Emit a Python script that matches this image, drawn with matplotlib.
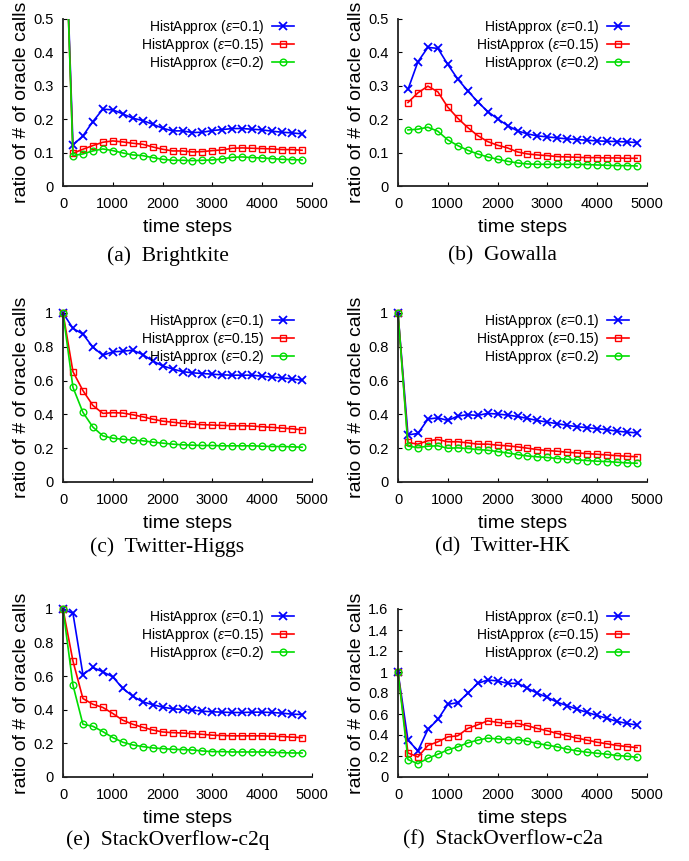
import numpy as np
import matplotlib
matplotlib.use('Agg')
import matplotlib.pyplot as plt

plt.rcParams['font.family'] = 'Liberation Sans'
plt.rcParams['mathtext.fontset'] = 'custom'
plt.rcParams['mathtext.rm'] = 'Liberation Sans'
plt.rcParams['mathtext.it'] = 'Liberation Sans:italic'

nan = float('nan')
steps = [0, 200, 400, 600, 800, 1000, 1200, 1400, 1600, 1800, 2000, 2200, 2400,
         2600, 2800, 3000, 3200, 3400, 3600, 3800, 4000, 4200, 4400, 4600, 4800]

labels = ['HistApprox ($\\varepsilon$=0.1)', 'HistApprox ($\\varepsilon$=0.15)',
          'HistApprox ($\\varepsilon$=0.2)']

# (a) Brightkite
bk_01 = [1.0, 0.123, 0.150, 0.193, 0.230, 0.228, 0.216, 0.203, 0.196, 0.185, 0.173, 0.165, 0.165,
         0.160, 0.161, 0.166, 0.169, 0.172, 0.172, 0.170, 0.168, 0.164, 0.161, 0.159, 0.156]
bk_015 = [1.0, 0.098, 0.110, 0.121, 0.131, 0.135, 0.132, 0.128, 0.125, 0.117, 0.110, 0.105, 0.105,
          0.102, 0.103, 0.106, 0.108, 0.113, 0.114, 0.113, 0.112, 0.111, 0.109, 0.109, 0.107]
bk_02 = [1.0, 0.091, 0.096, 0.105, 0.111, 0.106, 0.099, 0.093, 0.091, 0.085, 0.080, 0.077, 0.077,
         0.076, 0.077, 0.078, 0.081, 0.086, 0.087, 0.085, 0.084, 0.082, 0.080, 0.079, 0.078]

# (b) Gowalla
gw_01 = [nan, 0.289, 0.372, 0.415, 0.412, 0.364, 0.320, 0.285, 0.252, 0.223, 0.201, 0.181, 0.165,
         0.156, 0.150, 0.147, 0.144, 0.141, 0.139, 0.137, 0.135, 0.134, 0.133, 0.132, 0.130]
gw_015 = [nan, 0.250, 0.279, 0.299, 0.282, 0.236, 0.203, 0.175, 0.151, 0.133, 0.122, 0.114, 0.102,
          0.096, 0.093, 0.091, 0.088, 0.087, 0.086, 0.085, 0.085, 0.084, 0.084, 0.083, 0.083]
gw_02 = [nan, 0.168, 0.170, 0.176, 0.164, 0.138, 0.121, 0.107, 0.096, 0.087, 0.080, 0.074, 0.069,
         0.066, 0.065, 0.065, 0.065, 0.065, 0.065, 0.064, 0.063, 0.062, 0.061, 0.061, 0.060]

# (c) Twitter-Higgs
th_01 = [1.0, 0.909, 0.875, 0.798, 0.750, 0.770, 0.774, 0.780, 0.754, 0.717, 0.687, 0.669, 0.653,
         0.646, 0.642, 0.638, 0.634, 0.632, 0.632, 0.632, 0.626, 0.620, 0.616, 0.610, 0.602]
th_015 = [1.0, 0.653, 0.541, 0.453, 0.406, 0.410, 0.408, 0.398, 0.386, 0.372, 0.360, 0.354, 0.347,
          0.343, 0.339, 0.337, 0.335, 0.333, 0.333, 0.331, 0.327, 0.323, 0.319, 0.315, 0.309]
th_02 = [1.0, 0.560, 0.412, 0.325, 0.273, 0.259, 0.253, 0.248, 0.244, 0.236, 0.230, 0.224, 0.220,
         0.218, 0.216, 0.216, 0.214, 0.214, 0.214, 0.214, 0.212, 0.210, 0.210, 0.208, 0.206]

# (d) Twitter-HK
hk_01 = [1.0, 0.279, 0.287, 0.372, 0.380, 0.364, 0.390, 0.398, 0.394, 0.406, 0.402, 0.396, 0.388,
         0.376, 0.364, 0.354, 0.345, 0.335, 0.327, 0.321, 0.315, 0.309, 0.301, 0.295, 0.291]
hk_015 = [1.0, 0.234, 0.224, 0.244, 0.251, 0.238, 0.238, 0.232, 0.224, 0.224, 0.218, 0.214, 0.208,
          0.200, 0.192, 0.186, 0.182, 0.176, 0.172, 0.168, 0.164, 0.160, 0.156, 0.152, 0.150]
hk_02 = [1.0, 0.212, 0.204, 0.212, 0.214, 0.200, 0.202, 0.198, 0.192, 0.188, 0.180, 0.172, 0.162,
         0.154, 0.149, 0.145, 0.139, 0.135, 0.131, 0.127, 0.123, 0.121, 0.117, 0.113, 0.111]

# (e) StackOverflow-c2q
sq_01 = [1.0, 0.974, 0.610, 0.652, 0.626, 0.596, 0.527, 0.481, 0.447, 0.431, 0.416, 0.406, 0.402,
         0.398, 0.392, 0.388, 0.386, 0.384, 0.384, 0.386, 0.386, 0.384, 0.380, 0.374, 0.372]
sq_015 = [1.0, 0.690, 0.467, 0.433, 0.414, 0.378, 0.338, 0.314, 0.296, 0.280, 0.268, 0.264, 0.262,
          0.258, 0.254, 0.249, 0.247, 0.245, 0.245, 0.245, 0.245, 0.243, 0.241, 0.237, 0.235]
sq_02 = [1.0, 0.547, 0.314, 0.302, 0.270, 0.235, 0.207, 0.191, 0.181, 0.173, 0.169, 0.165, 0.163,
         0.161, 0.155, 0.151, 0.151, 0.149, 0.149, 0.149, 0.149, 0.147, 0.145, 0.143, 0.143]

# (f) StackOverflow-c2a
sa_01 = [1.0, 0.351, 0.249, 0.453, 0.548, 0.692, 0.708, 0.797, 0.892, 0.924, 0.915, 0.892, 0.892,
         0.845, 0.797, 0.759, 0.711, 0.679, 0.644, 0.615, 0.586, 0.558, 0.529, 0.510, 0.494]
sa_015 = [1.0, 0.229, 0.191, 0.300, 0.335, 0.382, 0.392, 0.462, 0.497, 0.535, 0.520, 0.507, 0.510,
          0.488, 0.462, 0.440, 0.414, 0.392, 0.370, 0.351, 0.331, 0.316, 0.300, 0.290, 0.280]
sa_02 = [1.0, 0.166, 0.127, 0.178, 0.217, 0.258, 0.287, 0.325, 0.351, 0.370, 0.363, 0.357, 0.357,
         0.341, 0.319, 0.303, 0.287, 0.265, 0.249, 0.236, 0.226, 0.217, 0.204, 0.198, 0.188]

captions = ['(a)  Brightkite', '(b)  Gowalla', '(c)  Twitter-Higgs', '(d)  Twitter-HK',
            '(e)  StackOverflow-c2q', '(f)  StackOverflow-c2a']
panels = [(bk_01, bk_015, bk_02), (gw_01, gw_015, gw_02), (th_01, th_015, th_02),
          (hk_01, hk_015, hk_02), (sq_01, sq_015, sq_02), (sa_01, sa_015, sa_02)]
ymax = [0.5, 0.5, 1.0, 1.0, 1.0, 1.6]
ystep = [0.1, 0.1, 0.2, 0.2, 0.2, 0.2]

W, H = 689, 861
fig = plt.figure(figsize=(W / 100, H / 100), dpi=100)

# axes boxes in pixels: left, right, bottom, top
lefts = [63, 398]
rows = [(186, 19), (482, 313), (777, 609)]
cap_y = [256, 547, 840]

colors = ['#0000ff', '#ff0000', '#00dd00']
markers = ['x', 's', 'o']

for i in range(6):
    r, c = divmod(i, 2)
    l = lefts[c]
    b, t = rows[r]
    ax = fig.add_axes([l / W, 1 - b / H, 249 / W, (b - t) / H])
    clip = max(max(s) for s in panels[i]) > ymax[i]
    for j in range(3):
        ax.plot(steps, panels[i][j], color=colors[j], marker=markers[j], lw=1.2,
                ms=5.5 if j == 0 else 4.8, mfc='none', mew=1.3 if j == 0 else 1.0,
                label=labels[j], clip_on=clip)
    ax.set_xlim(0, 5000)
    ax.set_ylim(0, ymax[i])
    ax.set_xticks([0, 1000, 2000, 3000, 4000, 5000])
    ax.set_yticks(np.arange(0, ymax[i] + 1e-9, ystep[i]))
    ax.set_yticklabels(['%g' % v for v in np.arange(0, ymax[i] + 1e-9, ystep[i])])
    for s in ['top', 'right']:
        ax.spines[s].set_visible(False)
    for s in ['left', 'bottom']:
        ax.spines[s].set_linewidth(1.3)
        ax.spines[s].set_color('#222222')
    ax.tick_params(direction='in', length=3, width=0.8, labelsize=10.5)
    ax.tick_params(axis='x', pad=8)
    ax.tick_params(axis='y', pad=7)
    ax.set_xlabel('time steps', fontsize=14, labelpad=6)
    ax.set_ylabel('ratio of # of oracle calls', fontsize=14, labelpad=2)
    ax.legend(loc='upper right', frameon=False, markerfirst=False, fontsize=10,
              handlelength=1.6, handletextpad=0.55, labelspacing=0.0,
              borderaxespad=0.0, bbox_to_anchor=(0.95, 1.04))
    fig.text((l + 124.5 - 20) / W, 1 - cap_y[r] / H, captions[i], ha='center', va='center',
             fontsize=15.5, family='Liberation Serif')

fig.savefig('out.png', dpi=100)
